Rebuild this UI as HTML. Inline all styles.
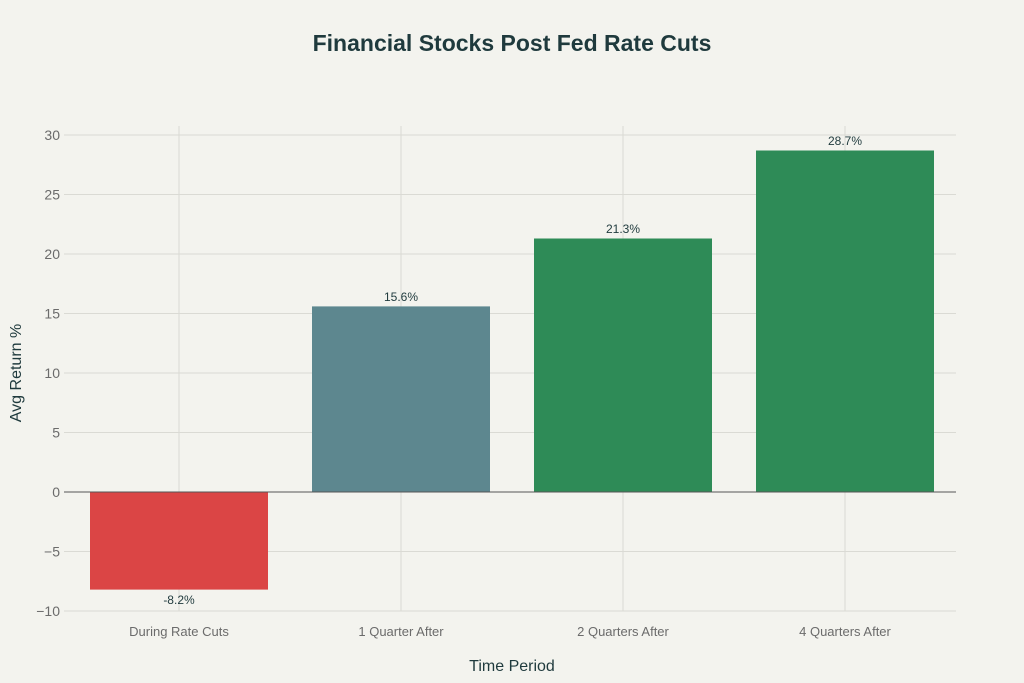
<!DOCTYPE html>
<html><head><meta charset="utf-8"><style>
body{margin:0;background:#F3F3EE;}
svg{display:block;font-family:"Liberation Sans",sans-serif;}
</style></head><body>
<svg width="1024" height="683" viewBox="0 0 1024 683">
<rect width="1024" height="683" fill="#F3F3EE"/>
<text x="512" y="51" text-anchor="middle" font-size="23" font-weight="bold" fill="#1F3A3D">Financial Stocks Post Fed Rate Cuts</text>
<g stroke="#DADAD4" stroke-width="1">
<line x1="64" x2="956" y1="135" y2="135"/>
<line x1="64" x2="956" y1="194.5" y2="194.5"/>
<line x1="64" x2="956" y1="254" y2="254"/>
<line x1="64" x2="956" y1="313.5" y2="313.5"/>
<line x1="64" x2="956" y1="373" y2="373"/>
<line x1="64" x2="956" y1="432.5" y2="432.5"/>
<line x1="64" x2="956" y1="551.5" y2="551.5"/>
<line x1="64" x2="956" y1="611" y2="611"/>
<line x1="179" x2="179" y1="126" y2="611"/>
<line x1="401" x2="401" y1="126" y2="611"/>
<line x1="623" x2="623" y1="126" y2="611"/>
<line x1="845" x2="845" y1="126" y2="611"/>
</g>
<rect x="90" y="492" width="178" height="97.6" fill="#DB4545"/>
<rect x="312" y="306.4" width="178" height="185.6" fill="#5D878F"/>
<rect x="534" y="238.5" width="178" height="253.5" fill="#2E8B57"/>
<rect x="756" y="150.5" width="178" height="341.5" fill="#2E8B57"/>
<line x1="64" x2="956" y1="492" y2="492" stroke="#555" stroke-width="1"/>
<g font-size="12" fill="#1F3A3D" text-anchor="middle">
<text x="179" y="604">-8.2%</text>
<text x="401" y="301">15.6%</text>
<text x="623" y="233">21.3%</text>
<text x="845" y="145">28.7%</text>
</g>
<g font-size="14" fill="#6B6B6B" text-anchor="end">
<text x="60" y="140">30</text>
<text x="60" y="199.5">25</text>
<text x="60" y="259">20</text>
<text x="60" y="318.5">15</text>
<text x="60" y="378">10</text>
<text x="60" y="437.5">5</text>
<text x="60" y="497">0</text>
<text x="60" y="556.5">−5</text>
<text x="60" y="616">−10</text>
</g>
<g font-size="13" fill="#6B6B6B" text-anchor="middle">
<text x="179" y="636">During Rate Cuts</text>
<text x="401" y="636">1 Quarter After</text>
<text x="623" y="636">2 Quarters After</text>
<text x="845" y="636">4 Quarters After</text>
</g>
<text x="512" y="671" text-anchor="middle" font-size="16" fill="#1F3A3D">Time Period</text>
<text transform="translate(21 373) rotate(-90)" text-anchor="middle" font-size="16" fill="#1F3A3D">Avg Return %</text>
</svg>
</body></html>
